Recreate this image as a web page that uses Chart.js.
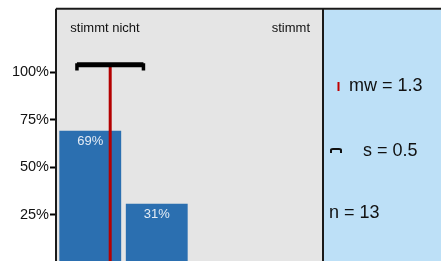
<!DOCTYPE html>
<html>
<head>
<meta charset="utf-8">
<script src="https://cdn.jsdelivr.net/npm/chart.js@4"></script>
<style>
    html, body { margin: 0; padding: 0; background: #fff; }
    #wrap { width: 441px; height: 261px; overflow: hidden; }
</style>
</head>
<body>
<div id="wrap"><canvas id="chart" width="441" height="272"></canvas></div>
<script>
// answer scale 1..4, share of answers in percent
const answers = ['1', '2', '3', '4'];
const shares = [69.2, 30.8, 0, 0];
const yTicks = [25, 50, 75, 100];
const scaleEnds = ['stimmt nicht', 'stimmt'];
const mean = 1.3;
const sd = 0.5;
const n = 13;

const FONT = 'Liberation Sans, Arial, sans-serif';
const ERR_Y = 104;

const frame = {
    id: 'frame',
    beforeDraw(chart) {
        const { ctx, chartArea: a, width, height } = chart;
        ctx.save();
        ctx.fillStyle = '#e5e5e5';
        ctx.fillRect(a.left, a.top, a.right - a.left, height - a.top);
        ctx.fillStyle = '#bde0f7';
        ctx.fillRect(a.right, a.top, width - a.right, height - a.top);
        ctx.restore();
    },
    afterDraw(chart) {
        const { ctx, chartArea: a, width, height } = chart;
        ctx.save();
        ctx.strokeStyle = '#1a1a1a';
        ctx.lineWidth = 2;
        ctx.beginPath();
        ctx.moveTo(a.left - 1, a.top - 1); ctx.lineTo(width, a.top - 1);
        ctx.moveTo(a.left - 1, a.top - 1); ctx.lineTo(a.left - 1, height);
        ctx.moveTo(a.right, a.top - 1); ctx.lineTo(a.right, height);
        ctx.stroke();

        // bar labels
        ctx.font = '13px ' + FONT;
        ctx.fillStyle = '#e4ecf5';
        ctx.textAlign = 'center';
        chart.getDatasetMeta(0).data.forEach((bar, i) => {
            if (shares[i] > 0) ctx.fillText(Math.round(shares[i]) + '%', bar.x, bar.y + 14);
        });

        // scale end labels
        ctx.fillStyle = '#111';
        ctx.fillText(scaleEnds[0], a.left + 48, 32);
        ctx.textAlign = 'right';
        ctx.fillText(scaleEnds[1], a.right - 13, 32);

        // side panel
        ctx.textAlign = 'left';
        ctx.font = '18px ' + FONT;
        ctx.fillStyle = '#111';
        ctx.fillText('mw = ' + mean.toFixed(1), a.right + 26, 91);
        ctx.fillText('s = ' + sd.toFixed(1), a.right + 40, 156);
        ctx.fillText('n = ' + n, a.right + 6, 218);
        ctx.fillStyle = '#c00000';
        ctx.fillRect(a.right + 14.5, 82, 2, 9);
        ctx.strokeStyle = '#111';
        ctx.lineWidth = 2;
        ctx.beginPath();
        ctx.moveTo(a.right + 8, 153); ctx.lineTo(a.right + 8, 150);
        ctx.quadraticCurveTo(a.right + 8, 149, a.right + 10, 149);
        ctx.lineTo(a.right + 16, 149);
        ctx.quadraticCurveTo(a.right + 18, 149, a.right + 18, 150);
        ctx.lineTo(a.right + 18, 153);
        ctx.stroke();
        ctx.restore();
    }
};

const cap = x => [{ x: x, y: ERR_Y + 0.8 }, { x: x, y: ERR_Y - 3 }];
const lineSet = (data, color, width, order) => ({
    type: 'line', xAxisID: 'xv', data: data,
    borderColor: color, borderWidth: width, pointRadius: 0, order: order
});

new Chart(document.getElementById('chart'), {
    type: 'bar',
    data: {
        labels: answers,
        datasets: [{
            data: shares,
            backgroundColor: '#2b6fb0',
            categoryPercentage: 1,
            barPercentage: 0.93,
            grouped: false,
            order: 4
        },
            lineSet([{ x: mean, y: 0 }, { x: mean, y: ERR_Y - 1 }], '#b40000', 3, 3),
            lineSet([{ x: mean - sd, y: ERR_Y }, { x: mean + sd, y: ERR_Y }], '#000', 5, 2),
            lineSet(cap(mean - sd), '#000', 3.5, 1),
            lineSet(cap(mean + sd), '#000', 3.5, 1)
        ]
    },
    options: {
        responsive: false,
        animation: false,
        layout: { padding: { left: 0, top: 9, right: 118, bottom: 8 } },
        plugins: { legend: { display: false }, tooltip: { enabled: false } },
        scales: {
            x: { display: false },
            xv: { type: 'linear', min: 0.5, max: 4.5, offset: false, display: false },
            y: {
                min: 0,
                max: 133,
                afterBuildTicks: s => { s.ticks = yTicks.map(v => ({ value: v })); },
                afterFit: s => { s.width = 57; },
                border: { display: false },
                grid: { drawOnChartArea: false, tickLength: 7, tickColor: '#000', tickWidth: 2 },
                ticks: {
                    padding: 1,
                    color: '#111',
                    font: { family: FONT, size: 14.5 },
                    callback: v => v + '%'
                }
            }
        }
    },
    plugins: [frame]
});
</script>
</body>
</html>
